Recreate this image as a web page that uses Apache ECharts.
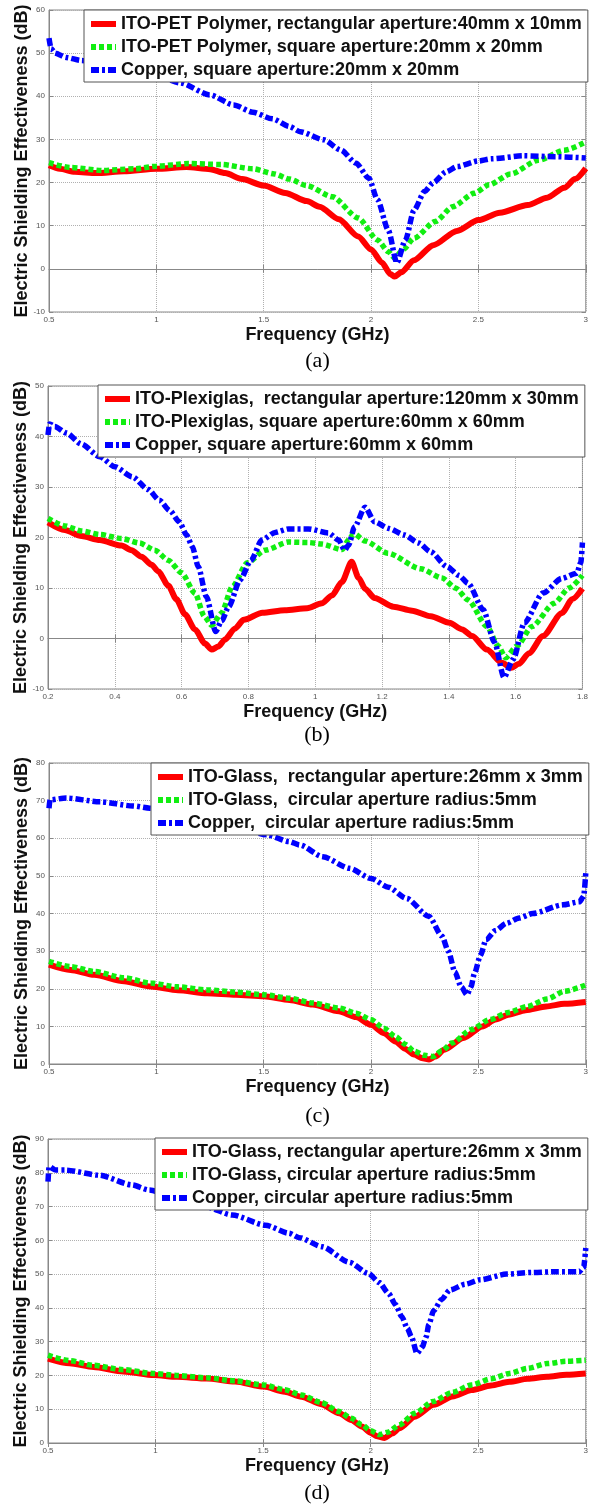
<!DOCTYPE html>
<html>
<head>
<meta charset="utf-8">
<script src="https://cdn.jsdelivr.net/npm/echarts@6/dist/echarts.min.js"></script>
<style>
  html, body { margin: 0; padding: 0; background: #fff; }
  #chart { width: 591px; height: 1506px; }
</style>
</head>
<body>
<div id="chart"></div>
<script>
// (a) ITO-PET Polymer
const aNames = [
  "ITO-PET Polymer, rectangular aperture:40mm x 10mm",
  "ITO-PET Polymer, square aperture:20mm x 20mm",
  "Copper, square aperture:20mm x 20mm"
];
const aRed = [[0.5,24],[0.55,23.2],[0.62,22.5],[0.72,22.2],[0.85,22.6],[1.0,23.2],[1.14,23.6],[1.25,23.1],[1.32,22.2],[1.4,20.8],[1.5,19.3],[1.6,17.6],[1.7,15.7],[1.76,14.4],[1.85,11.5],[1.94,7.5],[2.0,4.5],[2.05,1.5],[2.09,-1.2],[2.11,-1.8],[2.14,-0.8],[2.2,2.0],[2.29,5.5],[2.4,8.8],[2.5,11.3],[2.6,13.0],[2.73,14.8],[2.82,16.5],[2.9,18.8],[2.95,20.8],[3.0,23.3]];
const aGreen = [[0.5,24.6],[0.6,23.5],[0.75,22.8],[0.9,23.2],[1.0,23.8],[1.15,24.4],[1.3,24.2],[1.45,23.2],[1.55,22],[1.62,20.8],[1.7,19.3],[1.82,16.7],[1.94,11.8],[2.03,6.7],[2.08,4],[2.11,2.5],[2.15,4.5],[2.2,7.1],[2.3,11],[2.38,14.4],[2.48,17.5],[2.55,19.5],[2.65,22],[2.78,25.2],[2.9,27.5],[3.0,29.4]];
const aBlue = [[0.5,53.5],[0.51,51],[0.53,50],[0.58,49],[0.65,48.3],[0.75,47.5],[0.9,46],[1.0,44.8],[1.11,43.1],[1.25,40.3],[1.36,38],[1.45,36.3],[1.54,34.8],[1.62,33],[1.67,31.8],[1.78,29.9],[1.86,27.5],[1.93,24.5],[1.99,21],[2.03,16],[2.08,9],[2.12,1.4],[2.16,6.7],[2.2,13.6],[2.25,18],[2.29,20],[2.35,22.5],[2.4,23.7],[2.5,25],[2.56,25.5],[2.71,26.2],[2.86,26],[3.0,25.7]];

// (b) ITO-Plexiglas
const bNames = [
  "ITO-Plexiglas,  rectangular aperture:120mm x 30mm",
  "ITO-Plexiglas, square aperture:60mm x 60mm",
  "Copper, square aperture:60mm x 60mm"
];
const bRed = [[0.2,23],[0.25,21.5],[0.3,20.3],[0.355,19.5],[0.42,18.4],[0.45,17.5],[0.48,16.2],[0.51,14.6],[0.53,13.3],[0.56,10.5],[0.584,7.8],[0.61,4.8],[0.64,1.8],[0.67,-1.0],[0.69,-2.2],[0.71,-1.6],[0.73,-0.2],[0.76,2],[0.786,3.7],[0.842,5.1],[0.909,5.6],[0.976,6.0],[1.02,7.0],[1.05,8.5],[1.08,11.2],[1.109,15.2],[1.13,12],[1.15,9.8],[1.178,8.0],[1.234,6.3],[1.29,5.5],[1.346,4.4],[1.402,3.1],[1.44,1.8],[1.47,0.5],[1.514,-2.2],[1.559,-4.8],[1.587,-5.8],[1.61,-5],[1.64,-2.9],[1.682,0.5],[1.738,5.0],[1.77,7.8],[1.8,9.9]];
const bGreen = [[0.2,23.8],[0.25,22.3],[0.3,21.3],[0.355,20.6],[0.42,19.8],[0.474,18.9],[0.52,17.5],[0.56,15.5],[0.6,13],[0.64,9],[0.668,4.4],[0.69,2.6],[0.719,5],[0.752,10.3],[0.797,15],[0.85,17.5],[0.92,19.1],[0.98,19],[1.02,18.7],[1.08,17.6],[1.1,19.5],[1.115,20.8],[1.15,19.3],[1.217,16.9],[1.316,13.8],[1.38,12],[1.42,10],[1.458,7.6],[1.514,2.4],[1.548,-1.5],[1.57,-3.8],[1.604,-1.5],[1.649,2.4],[1.716,7],[1.76,10],[1.8,12.5]];
const bBlue = [[0.2,40.3],[0.205,42.5],[0.22,42],[0.255,40.7],[0.3,38.5],[0.355,36],[0.4,34],[0.453,32],[0.5,29.5],[0.533,27.4],[0.565,25.3],[0.593,23.1],[0.615,20.5],[0.632,18.2],[0.65,14.2],[0.674,8.3],[0.702,1.4],[0.72,3.5],[0.741,6.3],[0.775,11.6],[0.808,15.5],[0.84,19.5],[0.88,21],[0.92,21.7],[0.98,21.7],[1.04,20.9],[1.07,19.5],[1.088,17.5],[1.1,18.5],[1.118,22.1],[1.149,26],[1.178,23.1],[1.22,21.8],[1.267,20.5],[1.31,18.9],[1.345,17.2],[1.395,14.2],[1.43,12.5],[1.458,10.9],[1.503,5.7],[1.537,-0.8],[1.565,-7.7],[1.593,-4.1],[1.626,3.1],[1.682,9],[1.738,11.9],[1.783,12.9],[1.795,15],[1.8,19]];

// (c) ITO-Glass
const cNames = [
  "ITO-Glass,  rectangular aperture:26mm x 3mm",
  "ITO-Glass,  circular aperture radius:5mm",
  "Copper,  circular aperture radius:5mm"
];
const cRed = [[0.5,26.4],[0.6,25],[0.71,23.7],[0.85,22],[0.974,20.6],[1.1,19.6],[1.237,18.8],[1.37,18.4],[1.5,18],[1.62,17],[1.728,15.8],[1.85,14],[1.93,12.5],[2.0,10.4],[2.06,8.2],[2.114,6],[2.16,4],[2.2,2.5],[2.24,1.5],[2.27,1.2],[2.3,2],[2.34,3.8],[2.43,6.9],[2.518,10],[2.58,11.8],[2.64,13.1],[2.72,14.3],[2.816,15.3],[2.9,16],[3.0,16.5]];
const cGreen = [[0.5,27.3],[0.6,25.9],[0.71,24.6],[0.85,22.9],[0.974,21.5],[1.1,20.5],[1.237,19.7],[1.37,19.1],[1.5,18.4],[1.62,17.5],[1.728,16.2],[1.85,14.9],[1.93,13.5],[2.0,11.8],[2.06,9.5],[2.114,7.3],[2.16,5.2],[2.2,3.4],[2.25,2.3],[2.29,2.0],[2.33,3.5],[2.377,5.6],[2.465,9.1],[2.553,11.8],[2.64,13.7],[2.728,15.3],[2.82,17.3],[2.9,19.3],[3.0,21]];
const cBlue = [[0.5,68],[0.505,70.2],[0.58,70.7],[0.737,69.7],[0.89,68.6],[0.97,68],[1.1,66.5],[1.25,64.5],[1.4,62.5],[1.513,60.9],[1.62,59.1],[1.668,58.2],[1.775,55.1],[1.9,52],[2.0,49.3],[2.08,47],[2.165,44],[2.27,39.2],[2.33,34],[2.36,30],[2.39,24.5],[2.42,20.5],[2.447,18.4],[2.465,20.5],[2.482,24.2],[2.51,29],[2.535,33],[2.58,35.5],[2.63,37.4],[2.69,38.8],[2.753,40],[2.893,42.3],[2.97,43.1],[2.99,44.5],[3.0,50.8]];

// (d) ITO-Glass
const dNames = [
  "ITO-Glass, rectangular aperture:26mm x 3mm",
  "ITO-Glass, circular aperture radius:5mm",
  "Copper, circular aperture radius:5mm"
];
const dRed = [[0.5,25],[0.6,23.6],[0.711,22.5],[0.85,21.2],[0.992,20.1],[1.1,19.6],[1.238,19.1],[1.37,18.2],[1.502,16.7],[1.6,15.2],[1.678,13.7],[1.77,11.5],[1.854,8.8],[1.91,6.8],[1.959,4.9],[2.0,3],[2.03,2],[2.065,1.5],[2.1,2.8],[2.135,4.4],[2.205,7.8],[2.293,11.3],[2.38,13.8],[2.469,15.7],[2.56,17],[2.645,18.1],[2.73,19],[2.82,19.6],[2.91,20.2],[3.0,20.6]];
const dGreen = [[0.5,26],[0.6,24.4],[0.71,23],[0.85,21.7],[0.99,20.6],[1.1,20],[1.238,19.3],[1.37,18.4],[1.5,17.2],[1.6,15.8],[1.678,14.2],[1.77,12],[1.854,9.3],[1.91,7.3],[1.959,5.4],[2.0,3.6],[2.04,2.5],[2.08,3.2],[2.135,5.4],[2.205,8.8],[2.29,12.3],[2.38,15],[2.469,17.2],[2.56,19],[2.645,20.6],[2.73,22.1],[2.82,23.5],[2.91,24.2],[3.0,24.5]];
const dBlue = [[0.5,77.4],[0.505,81.8],[0.536,80.8],[0.58,80.8],[0.737,79.3],[0.89,76.4],[0.97,74.9],[1.1,72.5],[1.23,70],[1.356,67.5],[1.51,64.5],[1.62,62.1],[1.668,60.8],[1.775,58.1],[1.9,53.5],[1.99,50.2],[2.04,47.5],[2.083,44.3],[2.115,41],[2.145,37.4],[2.17,34],[2.19,31.4],[2.215,26.5],[2.24,28.5],[2.258,31.4],[2.27,35],[2.293,39.2],[2.33,42.5],[2.368,45.3],[2.44,47],[2.508,48.3],[2.632,50],[2.75,50.5],[2.865,50.7],[2.97,50.7],[2.99,52],[3.0,57.7]];

// axis ranges [min, max, interval]
const xRangeWide = [0.5, 3, 0.5];
const xRangeB = [0.2, 1.8, 0.2];
const yRangeA = [-10, 60, 10];
const yRangeB = [-10, 50, 10];
const yRangeC = [0, 80, 10];
const yRangeD = [0, 90, 10];
const captions = ["(a)", "(b)", "(c)", "(d)"];

// 布局: 每个子图的位置
const panels = [
  { names: aNames, data: [aRed, aGreen, aBlue], x: xRangeWide, y: yRangeA, left: 49, top: 10, height: 302, legendLeft: 84, legendTop: 10, capTop: 350 },
  { names: bNames, data: [bRed, bGreen, bBlue], x: xRangeB, y: yRangeB, left: 48, top: 386, height: 303, legendLeft: 98, legendTop: 385, capTop: 724 },
  { names: cNames, data: [cRed, cGreen, cBlue], x: xRangeWide, y: yRangeC, left: 49, top: 763, height: 301, legendLeft: 151, legendTop: 763, capTop: 1105 },
  { names: dNames, data: [dRed, dGreen, dBlue], x: xRangeWide, y: yRangeD, left: 48, top: 1139, height: 304, legendLeft: 155, legendTop: 1138, capTop: 1482 }
];

const colors = ["#ff0000", "#11ee11", "#0000ff"];
const dashes = ["solid", [5, 3], [8, 3, 3, 3]];
const plotRight = 586;
const frameColor = "#888";

let option = {
  animation: false,
  textStyle: { fontFamily: "Liberation Sans" },
  grid: [], xAxis: [], yAxis: [], legend: [], title: [], series: []
};

panels.forEach(function (p, i) {
  option.grid.push({
    left: p.left, top: p.top, width: plotRight - p.left, height: p.height,
    show: true, borderColor: frameColor, borderWidth: 1
  });
  let tick = { show: true, inside: true, length: 4, lineStyle: { color: frameColor } };
  // 下方 x 轴
  option.xAxis.push({
    type: "value", gridIndex: i, min: p.x[0], max: p.x[1], interval: p.x[2],
    axisLine: { show: true, lineStyle: { color: frameColor } },
    axisTick: tick,
    axisLabel: { fontSize: 8, color: "#555", margin: 4 },
    splitLine: { show: true, lineStyle: { type: "dotted", color: "#b0b0b0" } },
    name: "Frequency (GHz)", nameLocation: "middle", nameGap: 14, nameMoveOverlap: false,
    nameTextStyle: { fontSize: 18, fontWeight: "bold", color: "#111" }
  });
  // 上方 x 轴 (只显示刻度)
  option.xAxis.push({
    type: "value", gridIndex: i, position: "top", min: p.x[0], max: p.x[1], interval: p.x[2],
    axisLine: { show: false }, axisTick: tick, axisLabel: { show: false }, splitLine: { show: false }
  });
  option.yAxis.push({
    type: "value", gridIndex: i, min: p.y[0], max: p.y[1], interval: p.y[2],
    axisLine: { show: true, lineStyle: { color: frameColor } },
    axisTick: tick,
    axisLabel: { fontSize: 8, color: "#555", margin: 4 },
    splitLine: { show: true, lineStyle: { type: "dotted", color: "#b0b0b0" } },
    name: "Electric Shielding Effectiveness (dB)", nameLocation: "middle", nameGap: 18, nameMoveOverlap: false,
    nameTextStyle: { fontSize: 18, fontWeight: "bold", color: "#111" }
  });
  option.yAxis.push({
    type: "value", gridIndex: i, position: "right", min: p.y[0], max: p.y[1], interval: p.y[2],
    axisLine: { show: false }, axisTick: tick, axisLabel: { show: false }, splitLine: { show: false }
  });
  let textStart = p.legendLeft + 4 + 25 + 5;
  option.legend.push({
    orient: "vertical", left: p.legendLeft, top: p.legendTop,
    itemWidth: 25, itemHeight: 2, itemGap: 5, padding: [5, 6, 3, 4],
    backgroundColor: "#fff", borderColor: "#555", borderWidth: 1, borderRadius: 0,
    lineStyle: { width: 6 },
    itemStyle: { opacity: 0 },
    textStyle: { fontSize: 18, fontWeight: "bold", color: "#111", width: plotRight - 6 - textStart },
    data: p.names
  });
  option.title.push({
    text: captions[i], left: (p.left + plotRight) / 2, top: p.capTop, textAlign: "center", padding: 0,
    textStyle: { fontFamily: "Liberation Serif", fontSize: 22, fontWeight: "normal", color: "#000" }
  });
  p.data.forEach(function (d, k) {
    option.series.push({
      name: p.names[k], type: "line", xAxisIndex: 2 * i, yAxisIndex: 2 * i,
      data: d, symbol: "none", smooth: 0.25, smoothMonotone: "x",
      lineStyle: { color: colors[k], width: k === 0 ? 6 : 5.5, type: dashes[k], cap: "butt" },
      itemStyle: { color: colors[k] }
    });
  });
});

let chart = echarts.init(document.getElementById("chart"));
chart.setOption(option);
</script>
</body>
</html>
